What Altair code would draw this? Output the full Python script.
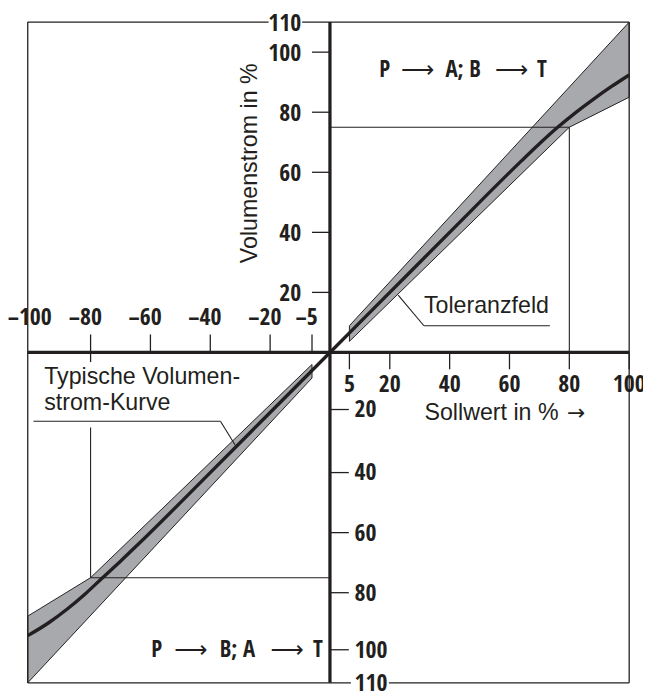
import altair as alt
import pandas as pd

# ---------------- values ----------------
# typical flow curve (Volumenstrom vs. Sollwert), both quadrants
curve_x = [-101, -94, -88, -82, -76, -70, -64, -40, -20, 0, 20, 40, 64, 70, 76, 82, 88, 94, 100]
curve_y = [-94.3, -90, -85.6, -80.6, -75, -69.5, -63.8, -40, -20, 0, 20, 40, 63.8, 69.5, 74.9, 79.8, 84.3, 88.5, 92.4]

# tolerance field outlines (closed polygons)
band_q1_x = [6.5, 80, 100, 100, 6.5, 6.5]
band_q1_y = [3.7, 75, 85, 110, 8.9, 3.7]
band_q3_x = [-6, -80, -101, -101, -6, -6]
band_q3_y = [-4, -75, -87.8, -110, -8.5, -4]

# axis ticks and labels
x_ticks_neg = [-80, -60, -40, -20, -6]
x_labels_neg = ["–80", "–60", "–40", "–20", "–5"]
x_ticks_pos = [6.5, 20, 40, 60, 80, 100]
x_labels_pos = ["5", "20", "40", "60", "80", "100"]
y_ticks_pos = [20, 40, 60, 80, 100]
y_labels_pos = ["20", "40", "60", "80", "100"]
y_ticks_neg = [-19, -40, -60, -80, -99]
y_labels_neg = ["20", "40", "60", "80", "100"]

x_min, x_max = -101, 100
y_min, y_max = -110, 110

# 80 % setpoint -> 75 % flow markers
mark_set = 80
mark_flow = 75

# flow-direction captions (words and arrows)
dir_words = [(18.3, 91.6, "P"), (44.5, 91.6, "A; B"), (70.8, 91.6, "T"),
             (-57.9, -101.4, "P"), (-30.9, -101.4, "B; A"), (-4.0, -101.4, "T")]
dir_arrows = [(29.3, 91.6), (60.7, 91.6), (-46.5, -101.4), (-14.3, -101.4)]

# ---------------- helpers ----------------
X = alt.Scale(domain=[x_min, x_max], nice=False, zero=False)
Y = alt.Scale(domain=[y_min, y_max], nice=False, zero=False)
INK = "#231f20"
BOLD_FONT = ("'Liberation Sans Narrow', 'Noto Sans Condensed', 'Open Sans Condensed', "
             "'Roboto Condensed', 'Liberation Sans', sans-serif")
REG_FONT = "Liberation Sans"


def segs(rows, sw):
    df = pd.DataFrame(rows, columns=["x", "y", "x2", "y2"])
    return alt.Chart(df).mark_rule(strokeWidth=sw, color=INK, strokeCap="butt").encode(
        x=alt.X("x:Q", scale=X, axis=None),
        y=alt.Y("y:Q", scale=Y, axis=None),
        x2="x2:Q",
        y2="y2:Q",
    )


def texts(rows, **kw):
    df = pd.DataFrame(rows, columns=["x", "y", "t"])
    return alt.Chart(df).mark_text(color=INK, **kw).encode(
        x=alt.X("x:Q", scale=X, axis=None),
        y=alt.Y("y:Q", scale=Y, axis=None),
        text="t:N",
    )


# ---------------- band ----------------
band_rows = []
for g, (bx, by) in enumerate([(band_q1_x, band_q1_y), (band_q3_x, band_q3_y)]):
    for i, (a, b) in enumerate(zip(bx, by)):
        band_rows.append({"x": a, "y": b, "g": g, "o": i})
band = alt.Chart(pd.DataFrame(band_rows)).mark_line(
    fill="#a7a9ac", stroke=INK, strokeWidth=1, strokeJoin="miter"
).encode(
    x=alt.X("x:Q", scale=X, axis=None),
    y=alt.Y("y:Q", scale=Y, axis=None),
    detail="g:N",
    order="o:Q",
)

curve = alt.Chart(pd.DataFrame({"x": curve_x, "y": curve_y})).mark_line(
    color=INK, strokeWidth=3.4, interpolate="monotone"
).encode(
    x=alt.X("x:Q", scale=X, axis=None),
    y=alt.Y("y:Q", scale=Y, axis=None),
)

# ---------------- lines ----------------
thin = segs([
    (0, mark_flow, mark_set, mark_flow),
    (mark_set, mark_flow, mark_set, 0),
    (-mark_set, -mark_flow, 0, -mark_flow),
    (-mark_set, -mark_flow, -mark_set, -25),
    # leader lines
    (22.8, 19.1, 31.4, 8.9),
    (31.4, 8.9, 73.5, 8.9),
    (-99.1, -22.9, -36.6, -22.9),
    (-36.6, -22.9, -31.7, -30.8),
], 1.1)

ticks = segs(
    [(t, 0, t, 6) for t in x_ticks_neg]
    + [(-80, 0, -80, -3.2)]
    + [(t, 0, t, -5.6) for t in x_ticks_pos]
    + [(-6, t, 0, t) for t in y_ticks_pos]
    + [(0, t, 6.3, t) for t in y_ticks_neg],
    1.3,
)

frame = segs([
    (x_min, y_min, x_min, y_max),
    (x_max, y_min, x_max, y_max),
    (x_min, y_max, -20.5, y_max),
    (-9.3, y_max, x_max, y_max),
    (x_min, y_min, 7, y_min),
    (19.7, y_min, x_max, y_min),
], 1.3)

axes = segs([
    (x_min, 0, x_max, 0),
    (0, y_min, 0, y_max),
], 3.3)

# ---------------- tick labels ----------------
lab_kw = dict(font=BOLD_FONT, fontWeight="bold", fontSize=24)
lab_neg_x = texts([(t, 9.3, s) for t, s in zip(x_ticks_neg, x_labels_neg)],
                  align="center", baseline="alphabetic", dx=-5.4, **lab_kw)
lab_m100 = texts([(x_min, 9.3, "–100")], align="center", baseline="alphabetic", dx=2, **lab_kw)
lab_pos_x = texts([(t, -13.3, s) for t, s in zip(x_ticks_pos, x_labels_pos)],
                  align="center", baseline="alphabetic", **lab_kw)
lab_pos_y = texts([(-9.6, t, s) for t, s in zip(y_ticks_pos + [y_max], y_labels_pos + ["110"])],
                  align="right", baseline="middle", dy=1.5, **lab_kw)
lab_neg_y = texts([(8.2, t, s) for t, s in zip(y_ticks_neg + [y_min], y_labels_neg + ["110"])],
                  align="left", baseline="middle", dy=1.0, **lab_kw)

# ---------------- annotations ----------------
reg_kw = dict(font=REG_FONT, fontSize=23.5)
ytitle = texts([(-26.8, 63, "Volumenstrom in %")], angle=270, align="center", baseline="middle", **reg_kw)
xtitle = texts([(31.6, -22.6, "Sollwert in %")], align="left", baseline="alphabetic", **reg_kw)
xarrow = texts([(82.3, -22.6, "→")], align="center", baseline="alphabetic",
               font="DejaVu Sans", fontSize=22)
tol = texts([(31.4, 13.2, "Toleranzfeld")], align="left", baseline="alphabetic", **reg_kw)
typ = texts([(-95.5, -10.4, "Typische Volumen-"), (-95.5, -19.3, "strom-Kurve")],
            align="left", baseline="alphabetic", **reg_kw)
dirs = texts(dir_words, align="center", baseline="alphabetic",
             font=BOLD_FONT, fontWeight="bold", fontSize=23)
arrows = texts([(a, b, "⟶") for a, b in dir_arrows], align="center", baseline="alphabetic",
               font="DejaVu Sans", fontWeight="normal", fontSize=23.5)

chart = alt.layer(
    band, thin, ticks, frame, curve, axes,
    lab_neg_x, lab_m100, lab_pos_x, lab_pos_y, lab_neg_y,
    ytitle, xtitle, xarrow, tol, typ, dirs, arrows,
).properties(
    width=609,
    height=669,
    padding={"left": 20, "top": 10, "right": 14, "bottom": 4},
    autosize=alt.AutoSizeParams(type="none"),
    background="white",
).configure_view(stroke=None)

chart.save("out.html", embed_options={"renderer": "svg", "actions": False})
